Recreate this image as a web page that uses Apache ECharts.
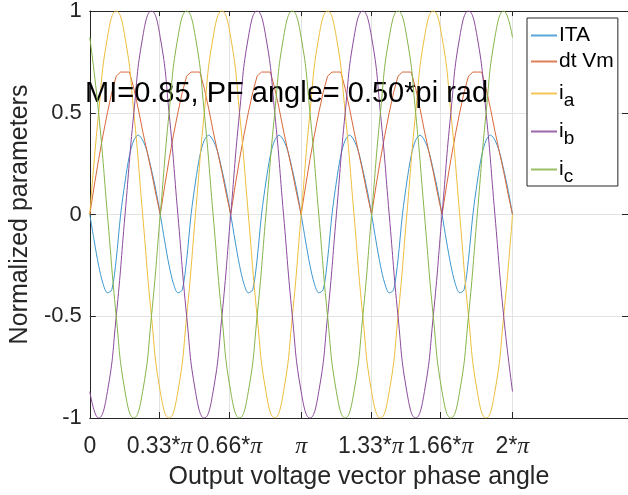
<!DOCTYPE html>
<html>
<head>
<meta charset="UTF-8">
<title>ITA / dt Vm</title>
<script src="https://cdn.jsdelivr.net/npm/echarts@6/dist/echarts.min.js"></script>
<style>html,body{margin:0;padding:0;background:#fff} #main{width:628px;height:495px}</style>
</head>
<body>
<div id="main"></div>
<script>
// x ticks, in units of pi
var tickPi = [0, 0.33, 0.66, 1, 1.33, 1.66, 2];
var tickLabels = ['0', '0.33*{p|π}', '0.66*{p|π}', '{p|π}', '1.33*{p|π}', '1.66*{p|π}', '2*{p|π}'];

var names = ['ITA', 'dt Vm', 'i_a', 'i_b', 'i_c'];
var colors = ['#3C97D0', '#D9683A', '#EDBD3A', '#8C4A9B', '#86B449'];

// ITA and dt Vm read every pi/48 rad (one row = one pi/3 period)
var ita = [
  0, -0.13, -0.25, -0.34, -0.385, -0.37, -0.22, 0.0, 0.16, 0.29, 0.365, 0.39, 0.365, 0.31, 0.22, 0.12,
  0, -0.13, -0.25, -0.34, -0.385, -0.37, -0.22, 0.0, 0.16, 0.29, 0.365, 0.39, 0.365, 0.31, 0.22, 0.12,
  0, -0.13, -0.25, -0.34, -0.385, -0.37, -0.22, 0.0, 0.16, 0.29, 0.365, 0.39, 0.365, 0.31, 0.22, 0.12,
  0, -0.13, -0.25, -0.34, -0.385, -0.37, -0.22, 0.0, 0.16, 0.29, 0.365, 0.39, 0.365, 0.31, 0.22, 0.12,
  0, -0.13, -0.25, -0.34, -0.385, -0.37, -0.22, 0.0, 0.16, 0.29, 0.365, 0.39, 0.365, 0.31, 0.22, 0.12,
  0, -0.13, -0.25, -0.34, -0.385, -0.37, -0.22, 0.0, 0.16, 0.29, 0.365, 0.39, 0.365, 0.31, 0.22, 0.12,
  0
];
var dtVm = [
  0, 0.14, 0.27, 0.39, 0.50, 0.60, 0.68, 0.70, 0.70, 0.70, 0.62, 0.52, 0.41, 0.31, 0.21, 0.10,
  0, 0.14, 0.27, 0.39, 0.50, 0.60, 0.68, 0.70, 0.70, 0.70, 0.62, 0.52, 0.41, 0.31, 0.21, 0.10,
  0, 0.14, 0.27, 0.39, 0.50, 0.60, 0.68, 0.70, 0.70, 0.70, 0.62, 0.52, 0.41, 0.31, 0.21, 0.10,
  0, 0.14, 0.27, 0.39, 0.50, 0.60, 0.68, 0.70, 0.70, 0.70, 0.62, 0.52, 0.41, 0.31, 0.21, 0.10,
  0, 0.14, 0.27, 0.39, 0.50, 0.60, 0.68, 0.70, 0.70, 0.70, 0.62, 0.52, 0.41, 0.31, 0.21, 0.10,
  0, 0.14, 0.27, 0.39, 0.50, 0.60, 0.68, 0.70, 0.70, 0.70, 0.62, 0.52, 0.41, 0.31, 0.21, 0.10,
  0
];

// phase currents read every pi/24 rad (one row = one pi/2 period)
var ia = [
  0, 0.5, 0.87, 1, 0.87, 0.5, 0, -0.5, -0.87, -1, -0.87, -0.5,
  0, 0.5, 0.87, 1, 0.87, 0.5, 0, -0.5, -0.87, -1, -0.87, -0.5,
  0, 0.5, 0.87, 1, 0.87, 0.5, 0, -0.5, -0.87, -1, -0.87, -0.5,
  0, 0.5, 0.87, 1, 0.87, 0.5, 0, -0.5, -0.87, -1, -0.87, -0.5,
  0
];
var ib = [
  -0.87, -1, -0.87, -0.5, 0, 0.5, 0.87, 1, 0.87, 0.5, 0, -0.5,
  -0.87, -1, -0.87, -0.5, 0, 0.5, 0.87, 1, 0.87, 0.5, 0, -0.5,
  -0.87, -1, -0.87, -0.5, 0, 0.5, 0.87, 1, 0.87, 0.5, 0, -0.5,
  -0.87, -1, -0.87, -0.5, 0, 0.5, 0.87, 1, 0.87, 0.5, 0, -0.5,
  -0.87
];
var ic = [
  0.87, 0.5, 0, -0.5, -0.87, -1, -0.87, -0.5, 0, 0.5, 0.87, 1,
  0.87, 0.5, 0, -0.5, -0.87, -1, -0.87, -0.5, 0, 0.5, 0.87, 1,
  0.87, 0.5, 0, -0.5, -0.87, -1, -0.87, -0.5, 0, 0.5, 0.87, 1,
  0.87, 0.5, 0, -0.5, -0.87, -1, -0.87, -0.5, 0, 0.5, 0.87, 1,
  0.87
];

function pairs(vals, step) {
  var out = [];
  for (var i = 0; i < vals.length; i++) out.push([i * step, vals[i]]);
  return out;
}

var tickValues = tickPi.map(function (t) { return t * Math.PI; });
var font = "'Liberation Sans', Arial, sans-serif";
var txt = '#262626';

function tickFmt(v) {
  for (var i = 0; i < tickValues.length; i++) {
    if (Math.abs(v - tickValues[i]) < 1e-6) return tickLabels[i];
  }
  return '';
}

// subscript: the padded token is pushed down by half its top padding
var legendLabel = {
  'ITA': '{n|ITA}',
  'dt Vm': '{n|dt Vm}',
  'i_a': '{i|i}{s|a}',
  'i_b': '{i|i}{s|b}',
  'i_c': '{i|i}{s|c}'
};

var myChart = echarts.init(document.getElementById('main'));
var seriesData = [pairs(ita, Math.PI / 48), pairs(dtVm, Math.PI / 48), pairs(ia, Math.PI / 24), pairs(ib, Math.PI / 24), pairs(ic, Math.PI / 24)];

var option = {
  animation: false,
  backgroundColor: '#fff',
  title: {
    text: 'MI=0.85, PF angle= 0.50*pi rad',
    left: 85, top: 79, padding: 0,
    textStyle: {fontFamily: font, fontSize: 29, fontWeight: 'normal', color: '#000'}
  },
  legend: {
    orient: 'vertical',
    left: 527, top: 18,
    padding: [7, 4, 0, 4],
    itemGap: 5,
    itemWidth: 26, itemHeight: 2,
    icon: 'rect',
    backgroundColor: '#fff',
    borderColor: txt, borderWidth: 1, borderRadius: 0,
    data: names.map(function (n, i) {
      return {name: n, itemStyle: {color: colors[i], opacity: 0.85}};
    }),
    formatter: function (n) { return legendLabel[n]; },
    textStyle: {
      fontFamily: font, fontSize: 21, color: '#000', padding: [0, 0, 0, -3],
      rich: {
        n: {fontFamily: font, fontSize: 21, color: '#000', lineHeight: 26},
        i: {fontFamily: font, fontSize: 21, color: '#000', lineHeight: 29},
        s: {fontFamily: font, fontSize: 19, color: '#000', lineHeight: 29, padding: [14, 0, 0, 0]}
      }
    }
  },
  grid: {left: 85, top: 7, width: 544, height: 415, containLabel: false},
  xAxis: [{
    type: 'value', min: 0, max: 8, position: 'bottom',
    name: 'Output voltage vector phase angle',
    nameLocation: 'middle', nameGap: 47,
    nameTextStyle: {fontFamily: font, fontSize: 25, color: txt},
    axisLine: {onZero: false, lineStyle: {color: txt, width: 1}},
    axisTick: {inside: true, length: 6, customValues: tickValues, lineStyle: {color: txt}},
    axisLabel: {
      customValues: tickValues, formatter: tickFmt, margin: 17,
      fontFamily: font, fontSize: 23, color: txt,
      rich: {p: {fontFamily: "'Liberation Serif', 'DejaVu Serif', serif", fontStyle: 'italic', fontSize: 24, color: txt}}
    },
    splitLine: {show: true, lineStyle: {color: '#e3e3e3', width: 1}}
  }, {
    type: 'value', min: 0, max: 8, position: 'top',
    axisLine: {onZero: false, lineStyle: {color: txt, width: 1}},
    axisTick: {inside: true, length: 5, customValues: tickValues, lineStyle: {color: txt}},
    axisLabel: {show: false},
    splitLine: {show: false}
  }],
  yAxis: [{
    type: 'value', min: -1, max: 1, interval: 0.5, position: 'left',
    name: 'Normalized parameters',
    nameLocation: 'middle', nameGap: 51, nameRotate: 90,
    nameTextStyle: {fontFamily: font, fontSize: 25, color: txt},
    axisLine: {show: true, onZero: false, lineStyle: {color: txt, width: 1}},
    axisTick: {inside: true, length: 6, lineStyle: {color: txt}},
    axisLabel: {fontFamily: font, fontSize: 22, color: txt, margin: 8},
    splitLine: {show: true, lineStyle: {color: '#e3e3e3', width: 1}}
  }, {
    type: 'value', min: -1, max: 1, interval: 0.5, position: 'right',
    axisLine: {show: true, onZero: false, lineStyle: {color: txt, width: 1}},
    axisTick: {inside: true, length: 6, lineStyle: {color: txt}},
    axisLabel: {show: false},
    splitLine: {show: false}
  }],
  series: names.map(function (n, i) {
    return {
      name: n,
      type: 'line',
      xAxisIndex: 0, yAxisIndex: 0,
      data: seriesData[i],
      symbol: 'none',
      showSymbol: false,
      smooth: i === 1 ? false : (i === 0 ? 0.3 : 0.5),
      color: colors[i],
      lineStyle: {color: colors[i], width: 1},
      z: 2 + i
    };
  })
};
myChart.setOption(option);
</script>
</body>
</html>
